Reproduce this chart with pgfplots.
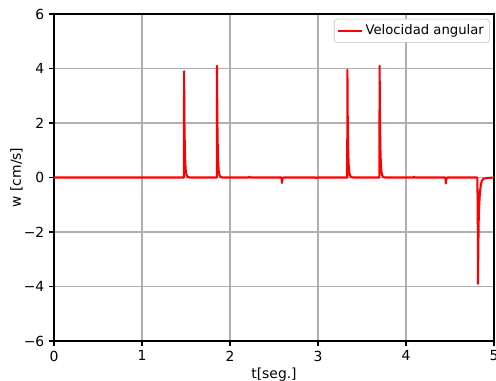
\documentclass[border=0pt]{standalone}
\usepackage{fontspec}
\setmainfont{DejaVu Sans}
\usepackage{pgfplots}
\pgfplotsset{compat=1.18}
\usetikzlibrary{calc}
\definecolor{gridgray}{HTML}{B0B0B0}
\begin{document}
\begin{tikzpicture}
\begin{axis}[
  scale only axis,
  width=316.8pt, height=235.4pt,
  xmin=0, xmax=5, ymin=-6, ymax=6,
  xtick={0,1,2,3,4,5},
  ytick={-6,-4,-2,0,2,4,6},
  yticklabels={−6,−4,−2,0,2,4,6},
  /pgf/number format/assume math mode=true,
  tick label style={font=\fontsize{10}{12}\selectfont},
  label style={font=\fontsize{10}{12}\selectfont},
  tick align=outside, tick pos=left,
  major tick length=3.5pt,
  grid=major,
  major grid style={gridgray, line width=0.8pt},
  axis line style={line width=0.8pt},
  every tick/.style={black, line width=0.8pt},
  xlabel={t[seg.]}, ylabel={w [cm/s]},
  xlabel style={yshift=2pt},
  ylabel style={yshift=-6pt},
  legend style={at={(0.99,0.985)}, anchor=north east, draw=gridgray!80, rounded corners=2pt, font=\fontsize{9.5}{11}\selectfont, inner sep=2pt},
  legend cell align=left,
]
\addplot[red, line width=1.5pt, line join=round] coordinates {
(0,0) (1.476,0) (1.478,3.90) (1.482,2.0) (1.487,1.0) (1.492,0.5) (1.498,0.22) (1.507,0.08) (1.52,0.02) (1.54,0)
(1.850,0) (1.852,4.10) (1.856,2.1) (1.861,1.05) (1.866,0.52) (1.872,0.23) (1.881,0.08) (1.894,0.02) (1.91,0)
(2.21,0) (2.22,0.03) (2.23,0)
(2.585,0) (2.590,-0.20) (2.595,-0.08) (2.60,-0.02) (2.61,0)
(2.97,0) (2.98,-0.02) (2.99,0)
(3.332,0) (3.334,3.95) (3.338,2.0) (3.343,1.0) (3.348,0.5) (3.354,0.22) (3.363,0.08) (3.376,0.02) (3.395,0)
(3.698,0) (3.700,4.10) (3.704,2.1) (3.709,1.05) (3.714,0.52) (3.720,0.23) (3.729,0.08) (3.742,0.02) (3.76,0)
(4.08,0) (4.09,0.03) (4.10,0)
(4.448,0) (4.453,-0.22) (4.458,-0.08) (4.464,-0.02) (4.47,0)
(4.810,0) (4.815,-1.0) (4.818,-3.90) (4.822,-2.5) (4.826,-1.6) (4.832,-1.0) (4.840,-0.55) (4.850,-0.28) (4.862,-0.12) (4.878,-0.05) (4.90,-0.03) (4.95,-0.01) (5,0)
};
\addlegendentry{Velocidad angular}
\end{axis}
\pgfresetboundingbox
\path ($(current axis.south west)+(-38.9pt,-28.8pt)$) rectangle ($(current axis.north east)+(1.44pt,10.1pt)$);
\end{tikzpicture}
\end{document}
